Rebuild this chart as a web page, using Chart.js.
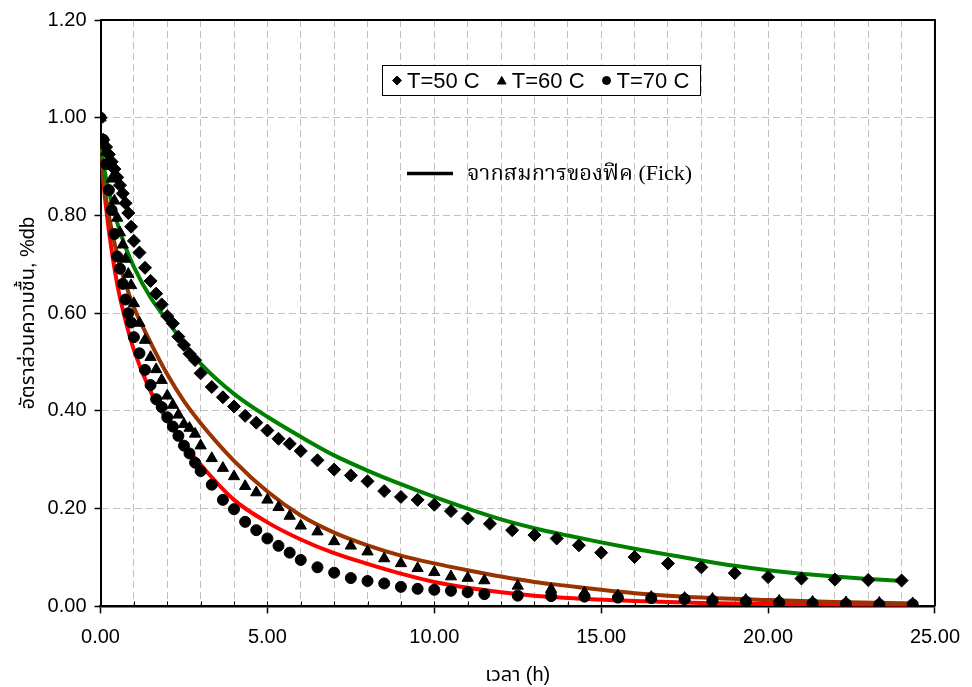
<!DOCTYPE html>
<html lang="th">
<head>
<meta charset="UTF-8">
<title>Moisture ratio vs time</title>
<script src="https://cdn.jsdelivr.net/npm/chart.js"></script>
<style>
    html, body { margin: 0; padding: 0; background: #fff; }
    #wrap { width: 972px; height: 687px; }
</style>
</head>
<body>
<div id="wrap"><canvas id="myChart" width="972" height="687"></canvas></div>
<script>
const seriesNames = ['T=50 C', 'T=60 C', 'T=70 C'];
const fickName = 'จากสมการของฟิค (Fick)';

const time50 = [0, 0.083, 0.167, 0.25, 0.333, 0.417, 0.5, 0.583, 0.667, 0.75, 0.833, 0.917, 1.0,
    1.167, 1.333, 1.5, 1.667, 1.833, 2.0, 2.167, 2.333, 2.5, 2.667, 2.833, 3.0,
    3.333, 3.667, 4.0, 4.333, 4.667, 5.0, 5.333, 5.667, 6.0,
    6.5, 7.0, 7.5, 8.0, 8.5, 9.0, 9.5, 10.0, 10.5, 11.0,
    11.667, 12.333, 13.0, 13.667, 14.333, 15.0,
    16, 17, 18, 19, 20, 21, 22, 23, 24];
const mr50 = [1.0, 0.955, 0.94, 0.925, 0.91, 0.895, 0.878, 0.862, 0.845, 0.825, 0.805, 0.777, 0.748,
    0.724, 0.693, 0.666, 0.640, 0.618, 0.594, 0.579, 0.552, 0.535, 0.517, 0.504, 0.477,
    0.449, 0.428, 0.409, 0.390, 0.376, 0.360, 0.343, 0.333, 0.318,
    0.299, 0.280, 0.268, 0.256, 0.236, 0.224, 0.218, 0.208, 0.195, 0.180,
    0.169, 0.156, 0.146, 0.139, 0.125, 0.110,
    0.101, 0.088, 0.080, 0.068, 0.060, 0.057, 0.055, 0.054, 0.053];

const time60 = [0, 0.083, 0.167, 0.25, 0.333, 0.417, 0.5, 0.583, 0.667, 0.75, 0.833, 0.917, 1.0,
    1.167, 1.333, 1.5, 1.667, 1.833, 2.0, 2.167, 2.333, 2.5, 2.667, 2.833, 3.0,
    3.333, 3.667, 4.0, 4.333, 4.667, 5.0, 5.333, 5.667, 6.0,
    6.5, 7.0, 7.5, 8.0, 8.5, 9.0, 9.5, 10.0, 10.5, 11.0, 11.5,
    12.5, 13.5, 14.5, 15.5, 16.5, 17.5,
    18.333, 19.333, 20.333, 21.333, 22.333, 23.333, 24.333];
const mr60 = [1.0, 0.95, 0.93, 0.905, 0.875, 0.83, 0.795, 0.765, 0.740, 0.711, 0.680, 0.657, 0.620,
    0.580, 0.545, 0.510, 0.485, 0.463, 0.431, 0.412, 0.392, 0.373, 0.365, 0.353, 0.329,
    0.303, 0.283, 0.266, 0.246, 0.233, 0.218, 0.203, 0.185, 0.165,
    0.153, 0.133, 0.124, 0.112, 0.098, 0.088, 0.078, 0.070, 0.061, 0.058, 0.053,
    0.042, 0.035, 0.028, 0.022, 0.019, 0.017,
    0.015, 0.013, 0.011, 0.009, 0.008, 0.007, 0.006];

const time70 = time60;
const mr70 = [1.0, 0.955, 0.905, 0.852, 0.811, 0.762, 0.716, 0.691, 0.660, 0.628, 0.600, 0.581, 0.551,
    0.518, 0.484, 0.453, 0.424, 0.408, 0.387, 0.368, 0.349, 0.329, 0.313, 0.294, 0.277,
    0.249, 0.218, 0.199, 0.173, 0.156, 0.139, 0.124, 0.110, 0.095,
    0.080, 0.069, 0.058, 0.052, 0.047, 0.040, 0.036, 0.034, 0.032, 0.029, 0.025,
    0.022, 0.021, 0.020, 0.018, 0.017, 0.015,
    0.012, 0.010, 0.008, 0.006, 0.005, 0.004, 0.004];

// Fick model curves
const fickTime50 = [0, 0.1, 0.25, 0.5, 0.75, 1, 1.5, 2, 2.5, 3, 4, 5, 6, 7, 8, 9, 10, 11, 12,
    13, 14, 15, 16, 17, 18, 19, 20, 21, 22, 23, 24];
const fick50 = [0.95, 0.90, 0.85, 0.785, 0.735, 0.695, 0.632, 0.585, 0.538, 0.497, 0.435, 0.388,
    0.347, 0.309, 0.278, 0.250, 0.224, 0.200, 0.178, 0.160, 0.145, 0.131, 0.118, 0.106, 0.094,
    0.083, 0.074, 0.067, 0.061, 0.056, 0.052];

const fickTime60 = [0, 0.1, 0.25, 0.5, 0.75, 1, 1.5, 2, 2.5, 3, 4, 5, 6, 7, 8, 9, 10, 11, 12,
    13, 14, 15, 16, 17, 18, 20, 22, 24.4];
const fick60 = [0.95, 0.87, 0.80, 0.72, 0.66, 0.612, 0.54, 0.475, 0.42, 0.375, 0.298, 0.235,
    0.186, 0.151, 0.125, 0.104, 0.088, 0.074, 0.061, 0.050, 0.042, 0.034, 0.027, 0.022, 0.018,
    0.013, 0.009, 0.006];

const fickTime70 = [0, 0.1, 0.25, 0.5, 0.75, 1, 1.5, 2, 2.5, 3, 4, 5, 6, 7, 8, 9, 10, 11, 12,
    13, 14, 16, 18, 20, 22, 24.4];
const fick70 = [0.95, 0.86, 0.77, 0.66, 0.585, 0.525, 0.44, 0.38, 0.332, 0.29, 0.218, 0.172,
    0.137, 0.109, 0.087, 0.067, 0.050, 0.038, 0.029, 0.022, 0.017, 0.011, 0.007, 0.005, 0.004,
    0.003];

const xTickValues = [0, 1, 2, 3, 4, 5, 6, 7, 8, 9, 10, 11, 12, 13, 14, 15, 16, 17, 18, 19, 20,
    21, 22, 23, 24, 25];
const xLabelValues = [0, 5, 10, 15, 20, 25];
const yTickValues = [0, 0.2, 0.4, 0.6, 0.8, 1.0, 1.2];

const toPoints = (xs, ys) => xs.map((x, i) => ({ x: x, y: ys[i] }));

const sansFont = '"Liberation Sans", Arial, "Noto Sans Thai", sans-serif';
const gridGray = '#c0c0c0';

function markerSet(label, xs, ys, style, radius) {
    return {
        label: label,
        data: toPoints(xs, ys),
        showLine: false,
        pointStyle: style,
        pointRadius: radius,
        pointBackgroundColor: '#000',
        pointBorderColor: '#000',
        pointBorderWidth: 1
    };
}

function curveSet(xs, ys, color) {
    return {
        label: fickName,
        data: toPoints(xs, ys),
        showLine: true,
        borderColor: color,
        borderWidth: 4,
        pointRadius: 0,
        cubicInterpolationMode: 'monotone',
        fill: false
    };
}

// frame, inward minor ticks and the two legend boxes
const frameAndLegend = {
    id: 'frameAndLegend',
    beforeDatasetsDraw(chart) {
        const { ctx, chartArea: a, scales: { x } } = chart;
        ctx.save();
        ctx.strokeStyle = '#000';
        ctx.lineWidth = 1;
        xTickValues.forEach(v => {
            if (v === 0 || v === 25) return;
            const px = Math.round(x.getPixelForValue(v)) + 0.5;
            ctx.beginPath();
            ctx.moveTo(px, a.bottom);
            ctx.lineTo(px, a.bottom - 5);
            ctx.stroke();
        });
        ctx.lineWidth = 2;
        ctx.beginPath();
        ctx.moveTo(a.left, a.top);
        ctx.lineTo(a.right, a.top);
        ctx.lineTo(a.right, a.bottom);
        ctx.stroke();
        ctx.restore();
    },
    afterDraw(chart) {
        const ctx = chart.ctx;
        const drawPoint = Chart.helpers.drawPoint;
        ctx.save();

        // marker legend box
        ctx.fillStyle = '#fff';
        ctx.fillRect(382, 65, 319, 30);
        ctx.strokeStyle = '#000';
        ctx.lineWidth = 1;
        ctx.strokeRect(382.5, 65.5, 318, 30);

        const styles = [['rectRot', 4.5], ['triangle', 5], ['circle', 4]];
        ctx.font = '22px ' + sansFont;
        ctx.textBaseline = 'middle';
        ctx.textAlign = 'left';
        let cx = 397;
        const cy = 80.5;
        seriesNames.forEach((name, i) => {
            ctx.fillStyle = '#000';
            ctx.strokeStyle = '#000';
            ctx.lineWidth = 1;
            drawPoint(ctx, { pointStyle: styles[i][0], radius: styles[i][1], rotation: 0, borderWidth: 1 },
                cx, i === 1 ? cy + 1 : cy);
            ctx.fillText(name, cx + 10, cy + 1);
            cx += 10 + ctx.measureText(name).width + 22;
        });

        // Fick curve legend
        ctx.strokeStyle = '#000';
        ctx.lineWidth = 3.5;
        ctx.beginPath();
        ctx.moveTo(407, 173.5);
        ctx.lineTo(453, 173.5);
        ctx.stroke();
        ctx.fillStyle = '#000';
        ctx.font = '22px "Liberation Serif", "Times New Roman", "Noto Serif Thai", serif';
        ctx.fillText(fickName, 467, 174);
        ctx.restore();
    }
};

const ctx = document.getElementById('myChart').getContext('2d');
new Chart(ctx, {
    type: 'scatter',
    data: {
        datasets: [
            markerSet(seriesNames[0], time50, mr50, 'rectRot', 6.5),
            markerSet(seriesNames[1], time60, mr60, 'triangle', 6.5),
            markerSet(seriesNames[2], time70, mr70, 'circle', 5.5),
            curveSet(fickTime50, fick50, '#008000'),
            curveSet(fickTime60, fick60, '#993300'),
            curveSet(fickTime70, fick70, '#ff0000')
        ]
    },
    options: {
        responsive: false,
        animation: false,
        devicePixelRatio: 1,
        layout: { padding: { left: 0, right: 28.5, top: 20, bottom: 0 } },
        plugins: {
            legend: { display: false },
            tooltip: { enabled: false }
        },
        scales: {
            x: {
                type: 'linear',
                min: 0,
                max: 25,
                afterBuildTicks: (scale) => { scale.ticks = xTickValues.map(v => ({ value: v })); },
                afterFit: (scale) => { scale.height = 80.6; },
                ticks: {
                    autoSkip: false,
                    maxRotation: 0,
                    padding: 12,
                    color: '#000',
                    font: { family: sansFont, size: 20 },
                    callback: (v) => xLabelValues.includes(v) ? v.toFixed(2) : ''
                },
                grid: {
                    color: (c) => (c.tick && (c.tick.value === 0 || c.tick.value === 25)) ? 'rgba(0,0,0,0)' : gridGray,
                    lineWidth: 1,
                    tickLength: 7,
                    tickWidth: 1.5,
                    tickColor: (c) => (c.tick && xLabelValues.includes(c.tick.value)) ? '#000' : 'rgba(0,0,0,0)',
                    tickBorderDash: [],
                    borderDash: [7, 4]
                },
                border: { display: true, color: '#000', width: 2.5, dash: [7, 4] },
                title: {
                    display: true,
                    text: 'เวลา (h)',
                    color: '#000',
                    font: { family: sansFont, size: 20 },
                    padding: { top: 0, bottom: 0 }
                }
            },
            y: {
                type: 'linear',
                min: 0,
                max: 1.2,
                afterBuildTicks: (scale) => { scale.ticks = yTickValues.map(v => ({ value: v })); },
                afterFit: (scale) => { scale.width = 100.5; },
                ticks: {
                    padding: 8,
                    color: '#000',
                    font: { family: sansFont, size: 20 },
                    callback: (v) => Number(v).toFixed(2)
                },
                grid: {
                    color: (c) => (c.tick && (c.tick.value === 0 || c.tick.value === 1.2)) ? 'rgba(0,0,0,0)' : gridGray,
                    lineWidth: 1,
                    tickLength: 6,
                    tickWidth: 1.5,
                    tickColor: '#000',
                    tickBorderDash: [],
                    borderDash: [7, 4]
                },
                border: { display: true, color: '#000', width: 2, dash: [7, 4] },
                title: {
                    display: true,
                    text: 'อัตราส่วนความชื้น, %db',
                    color: '#000',
                    font: { family: sansFont, size: 20 },
                    padding: { top: 16, bottom: 0 }
                }
            }
        }
    },
    plugins: [frameAndLegend]
});
</script>
</body>
</html>
